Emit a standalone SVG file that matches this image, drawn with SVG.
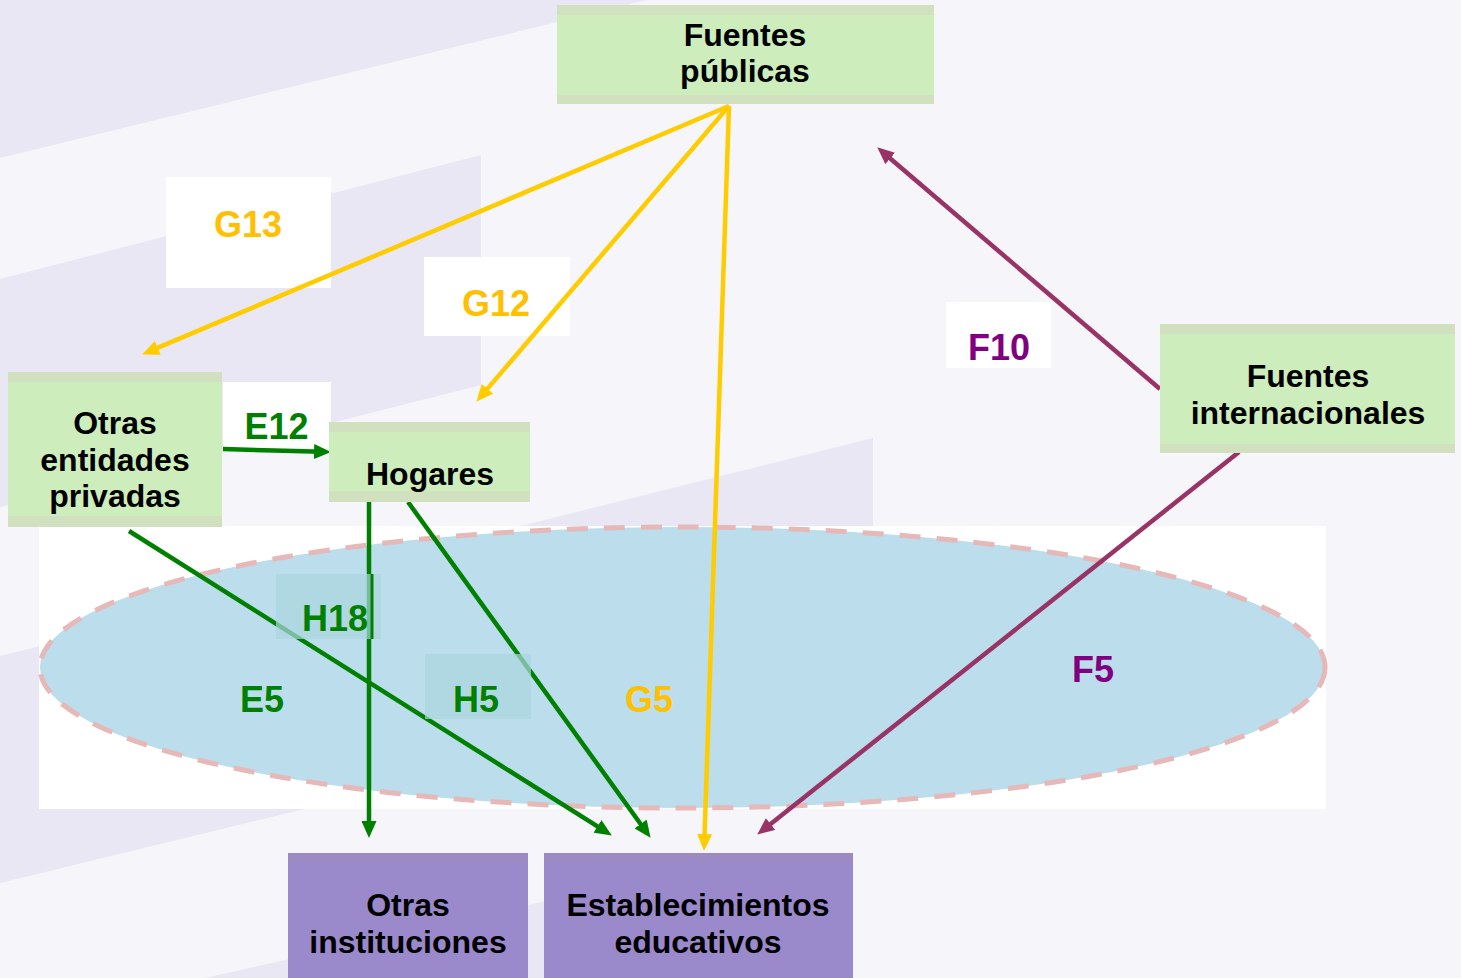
<svg xmlns="http://www.w3.org/2000/svg" width="1461" height="978" viewBox="0 0 1461 978">
<style>
text{font-family:"Liberation Sans",Arial,sans-serif;font-weight:bold;text-anchor:middle}
.nt{font-size:32px;fill:#000}
.lb{font-size:36px}
.g{fill:#FFC000}.e{fill:#008000}.f{fill:#800080}
.green{fill:#CDEEBC}.band{fill:#D1E0BF}
.purple{fill:#9A89CB}.pband{fill:#9B8AC4}
.wbox{fill:#FFFFFF}
.stripe{fill:#E8E7F3}
.c{fill:none;stroke-width:4.5}
.cg{stroke:#008000}.cy{stroke:#FFCC00}.cp{stroke:#993366}
.tag{fill:#A9D6DE;opacity:0.7}
</style>
<defs>
<marker id="ag" markerUnits="userSpaceOnUse" markerWidth="17" markerHeight="15" refX="8" refY="7.5" orient="auto"><path d="M0,0 L17,7.5 L0,15 z" fill="#008000"/></marker>
<marker id="ay" markerUnits="userSpaceOnUse" markerWidth="17" markerHeight="15" refX="8" refY="7.5" orient="auto"><path d="M0,0 L17,7.5 L0,15 z" fill="#FFCC00"/></marker>
<marker id="ap" markerUnits="userSpaceOnUse" markerWidth="17" markerHeight="15" refX="8" refY="7.5" orient="auto"><path d="M0,0 L17,7.5 L0,15 z" fill="#993366"/></marker>
</defs>
<g id="background">
<rect width="1461" height="978" fill="#F5F5FA"/>
<polygon class="stripe" points="0,0 647,0 0,158"/>
<polygon class="stripe" points="0,279 481,155 481,385 0,507"/>
<polygon class="stripe" points="0,656 873,438 873,671 0,883"/>
<polygon class="stripe" points="205,978 700,866 700,978"/>
</g>
<g id="label-boxes">
<rect class="wbox" x="166" y="177" width="165" height="111"/>
<rect class="wbox" x="424" y="257" width="146" height="79"/>
<rect class="wbox" x="946" y="302" width="105" height="66"/>
<rect class="wbox" x="223" y="382" width="108" height="66"/>
</g>
<g id="ellipse-area">
<rect x="39" y="526" width="1287" height="283" fill="#FFFFFF"/>
<ellipse cx="682.5" cy="667.5" rx="642.5" ry="140.5" fill="#BBDDEC" stroke="#E6B9B8" stroke-width="5" stroke-dasharray="21 16"/>
</g>
<g id="connectors">
<line class="c cy" x1="729" y1="106" x2="150.4" y2="350.9" marker-end="url(#ay)"/>
<line class="c cy" x1="729" y1="106" x2="482.2" y2="394.9" marker-end="url(#ay)"/>
<line class="c cy" x1="729" y1="106" x2="704.3" y2="842" marker-end="url(#ay)"/>
<line class="c cp" x1="1160" y1="389" x2="884.1" y2="153.2" marker-end="url(#ap)"/>
<line class="c cp" x1="1239" y1="452" x2="764.3" y2="829" marker-end="url(#ap)"/>
<line class="c cg" x1="223" y1="449" x2="322" y2="451.8" marker-end="url(#ag)"/>
<line class="c cg" x1="129" y1="531" x2="604.2" y2="830.7" marker-end="url(#ag)"/>
<line class="c cg" x1="408" y1="502" x2="645.3" y2="830.5" marker-end="url(#ag)"/>
<line class="c cg" x1="369" y1="502" x2="369" y2="829" marker-end="url(#ag)"/>
</g>
<g id="label-H18">
<rect class="tag" x="276" y="574" width="105" height="65"/>
<line x1="372" y1="574" x2="372" y2="639" stroke="#008000" stroke-width="3"/>
<text class="lb e" x="335" y="631">H18</text>
</g>
<g id="label-H5">
<rect class="tag" x="425" y="654" width="106" height="65"/>
<text class="lb e" x="476" y="712">H5</text>
</g>
<g id="label-E5"><text class="lb e" x="262" y="712">E5</text></g>
<g id="label-G5"><text class="lb g" x="649" y="712">G5</text></g>
<g id="label-F5"><text class="lb f" x="1093" y="682">F5</text></g>
<g id="label-G13"><text class="lb g" x="248" y="237">G13</text></g>
<g id="label-G12"><text class="lb g" x="496" y="316">G12</text></g>
<g id="label-F10"><text class="lb f" x="999" y="360">F10</text></g>
<g id="label-E12"><text class="lb e" x="276.5" y="439">E12</text></g>
<g id="node-fuentes-publicas">
<rect class="green" x="557" y="5" width="377" height="99"/>
<rect class="band" x="557" y="5" width="377" height="10"/>
<rect class="band" x="557" y="95" width="377" height="9"/>
<text class="nt" x="745" y="46">Fuentes</text>
<text class="nt" x="745" y="82">públicas</text>
</g>
<g id="node-fuentes-internacionales">
<rect class="green" x="1160" y="324" width="295" height="129"/>
<rect class="band" x="1160" y="324" width="295" height="10"/>
<rect class="band" x="1160" y="444" width="295" height="9"/>
<text class="nt" x="1308" y="387">Fuentes</text>
<text class="nt" x="1308" y="424">internacionales</text>
</g>
<g id="node-otras-entidades">
<rect class="green" x="8" y="372" width="214" height="155"/>
<rect class="band" x="8" y="372" width="214" height="10"/>
<rect class="band" x="8" y="516" width="214" height="11"/>
<text class="nt" x="115" y="434">Otras</text>
<text class="nt" x="115" y="471">entidades</text>
<text class="nt" x="115" y="507">privadas</text>
</g>
<g id="node-hogares">
<rect class="green" x="329" y="422" width="201" height="80"/>
<rect class="band" x="329" y="422" width="201" height="10"/>
<rect class="band" x="329" y="491" width="201" height="11"/>
<text class="nt" x="430" y="485">Hogares</text>
</g>
<g id="node-otras-instituciones">
<rect class="purple" x="288" y="853" width="240" height="125"/>
<rect class="pband" x="288" y="853" width="240" height="9"/>
<text class="nt" x="408" y="916">Otras</text>
<text class="nt" x="408" y="953">instituciones</text>
</g>
<g id="node-establecimientos">
<rect class="purple" x="544" y="853" width="309" height="125"/>
<rect class="pband" x="544" y="853" width="309" height="9"/>
<text class="nt" x="698" y="916">Establecimientos</text>
<text class="nt" x="698" y="953">educativos</text>
</g>
</svg>
